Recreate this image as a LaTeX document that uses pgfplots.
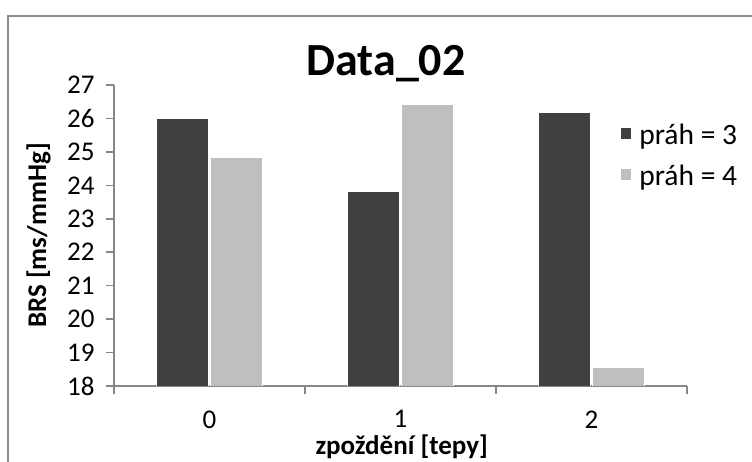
\documentclass[border=0pt]{standalone}
\usepackage{pgfplots}
\pgfplotsset{compat=1.18}
\usepackage{fontspec}
\setmainfont{Carlito}
\definecolor{darkbar}{HTML}{404040}
\definecolor{lightbar}{HTML}{BFBFBF}
\definecolor{axisgray}{HTML}{878787}
\definecolor{framegray}{HTML}{8C8C8C}
\newcommand{\legfont}{\fontsize{29.5}{32}\selectfont}
\begin{document}
\begin{tikzpicture}[x=1pt,y=1pt]
\useasboundingbox (0,0) rectangle (752,462);
\draw[framegray, line width=1.6pt] (8,-20) -- (8,446) -- (780,446);
\begin{axis}[
  at={(114pt,76pt)}, anchor=south west,
  scale only axis, width=573pt, height=301pt,
  xmin=-0.5, xmax=2.5, ymin=18, ymax=27,
  ybar=2pt, bar width=52pt,
  axis x line*=bottom, axis y line*=left,
  axis line style={axisgray, line width=1.5pt, -},
  xtick={0,1,2}, xticklabels={0,1,2},
  minor xtick={-0.5,0.5,1.5,2.5},
  ytick={18,19,...,27},
  tick align=outside,
  major tick length=8pt, minor tick length=8pt,
  x tick style={draw=none},
  minor x tick style={draw=axisgray, line width=1.5pt},
  y tick style={axisgray, line width=1.5pt},
  tick label style={font=\fontsize{27}{30}\selectfont, text=black},
  /pgf/number format/assume math mode=true,
  yticklabel style={xshift=-8pt},
  xticklabel style={yshift=-13pt},
  title={\textbf{Data\_02}},
  title style={font=\fontsize{46}{50}\selectfont, at={(axis description cs:0.4747,1.01)}, anchor=base},
  xlabel={\textbf{zpoždění [tepy]}},
  xlabel style={font=\fontsize{27}{30}\selectfont, at={(axis description cs:0.502,-0.226)}, anchor=base},
  ylabel={\textbf{BRS [ms/mmHg]}},
  ylabel style={font=\fontsize{27}{30}\selectfont, at={(axis description cs:-0.1185,0.5)}, anchor=base, rotate=0},
  legend style={draw=none, fill=none, at={(axis description cs:0.885,0.875)}, anchor=north west,
    row sep=17pt, column sep=7pt, inner sep=0pt,
    nodes={inner sep=1pt, font=\legfont}},
  legend image code/.code={\fill[#1, draw=none] (0pt,-4pt) rectangle (10pt,7pt);},
  legend cell align=left,
]
\addplot[fill=darkbar, draw=white, line width=0.6pt] coordinates {(0,26.0) (1,23.82) (2,26.18)};
\addplot[fill=lightbar, draw=white, line width=0.6pt] coordinates {(0,24.84) (1,26.43) (2,18.56)};
\legend{\legfont práh = 3, \legfont práh = 4}
\end{axis}
\end{tikzpicture}
\end{document}
